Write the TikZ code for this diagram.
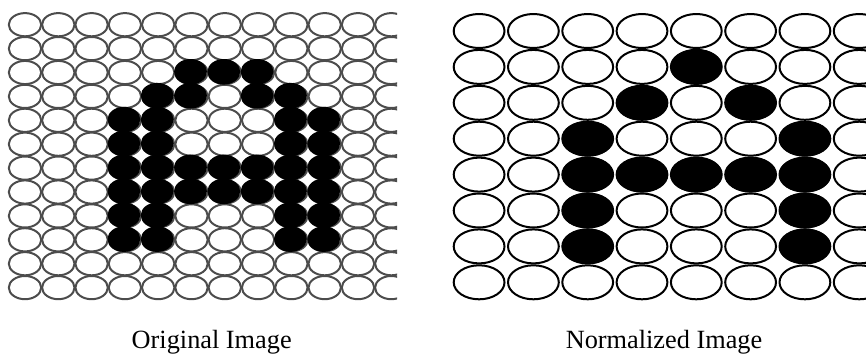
\documentclass[tikz,border=0pt]{standalone}
\usepackage{fontspec}
\setmainfont{Liberation Serif}
\tikzset{
  lcell/.style={draw=black!70, line width=2pt},
  ldot/.style={fill=black},
  rcell/.style={draw=black, line width=2pt},
  rdot/.style={fill=black},
  caption/.style={anchor=base, inner sep=0pt, font=\fontsize{26.3}{30}\selectfont}
}
\begin{document}
\begin{tikzpicture}[x=1pt,y=-1pt]
\useasboundingbox (0,0) rectangle (866,354);
% left grid
\begin{scope}
\clip (7,11) rectangle (397,301);
\foreach \r in {0,...,11}
  \foreach \c in {0,...,11}
    \draw[lcell] ({25+33.3*\c},{24.7+23.9*\r}) ellipse [x radius=16.2pt, y radius=11.6pt];
\foreach \r/\c in {2/5,2/6,2/7,
                   3/4,3/5,3/7,3/8,
                   4/3,4/4,4/8,4/9,
                   5/3,5/4,5/8,5/9,
                   6/3,6/4,6/5,6/6,6/7,6/8,6/9,
                   7/3,7/4,7/5,7/6,7/7,7/8,7/9,
                   8/3,8/4,8/8,8/9,
                   9/3,9/4,9/8,9/9}
  \fill[ldot] ({24+33.3*\c},{24+23.9*\r}) ellipse [x radius=16.4pt, y radius=12.8pt];
\end{scope}
% right grid
\begin{scope}
\clip (450,11) rectangle (866,302);
\foreach \r in {0,...,7}
  \foreach \c in {0,...,7}
    \draw[rcell] ({479.1+54.3*\c},{31+35.9*\r}) ellipse [x radius=25.4pt, y radius=17pt];
\foreach \r/\c in {1/4,
                   2/3,2/5,
                   3/2,3/6,
                   4/2,4/3,4/4,4/5,4/6,
                   5/2,5/6,
                   6/2,6/6}
  \fill[rdot] ({479.1+54.3*\c},{31+35.9*\r}) ellipse [x radius=25.8pt, y radius=17.8pt];
\end{scope}
\node[caption] (orig) at (211.7,348) {Original Image};
\node[caption] (norm) at (664,348) {Normalized Image};
\end{tikzpicture}
\end{document}
